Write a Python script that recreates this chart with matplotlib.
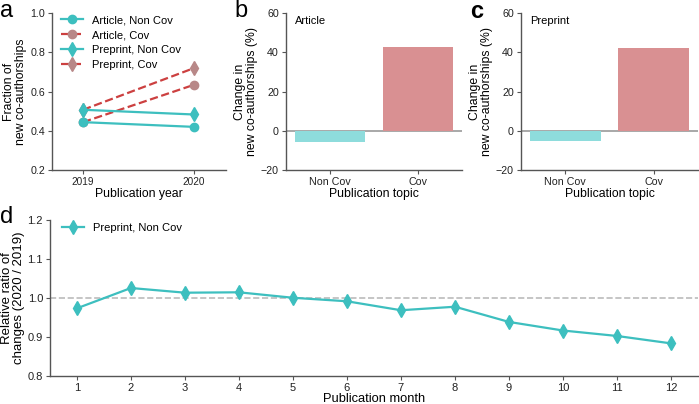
import matplotlib
matplotlib.use("Agg")
import matplotlib.pyplot as plt
import numpy as np

plt.rcParams['font.family'] = ['Liberation Sans', 'DejaVu Sans']

#%% data
years = ['2019', '2020']
article_noncov = [0.444, 0.420]
article_cov = [0.444, 0.634]
preprint_noncov = [0.507, 0.483]
preprint_cov = [0.507, 0.719]

topics = ['Non Cov', 'Cov']
article_change = [-5.5, 42.9]
preprint_change = [-5.0, 41.9]

months = [1, 2, 3, 4, 5, 6, 7, 8, 9, 10, 11, 12]
preprint_ratio = [0.974, 1.026, 1.014, 1.015, 1.001, 0.992, 0.969, 0.978, 0.939, 0.917, 0.903, 0.884]

#%% style
teal = '#3dbfbf'
red = '#cc4040'
covmk = '#b88888'
bar_teal = '#8edcdc'
bar_red = '#d99092'
spine_col = '#555555'

def style_ax(ax, ticksize):
    for s in ['top', 'right']:
        ax.spines[s].set_visible(False)
    for s in ['left', 'bottom']:
        ax.spines[s].set_color(spine_col)
        ax.spines[s].set_linewidth(1.0)
    ax.tick_params(colors=spine_col, labelcolor='#222222', labelsize=ticksize, length=3, width=0.8, pad=2)

fig = plt.figure(figsize=(6.99, 4.04), dpi=100)

#%% panel a
ax_a = fig.add_axes([0.0744, 0.579, 0.249, 0.389])
x = np.arange(len(years))
ax_a.plot(x, article_noncov, '-', color=teal, lw=1.6, marker='o', ms=6, label='Article, Non Cov', zorder=4)
ax_a.plot(x, article_cov, '--', color=red, lw=1.6, marker='o', ms=6, mfc=covmk, mec=covmk, label='Article, Cov', zorder=3)
ax_a.plot(x, preprint_noncov, '-', color=teal, lw=1.6, marker='d', ms=7, label='Preprint, Non Cov', zorder=4)
ax_a.plot(x, preprint_cov, '--', color=red, lw=1.6, marker='d', ms=7, mfc=covmk, mec=covmk, label='Preprint, Cov', zorder=3)
ax_a.set_xticks(x)
ax_a.set_xticklabels(years)
ax_a.set_xlim(-0.28, 1.29)
ax_a.set_ylim(0.2, 1.0)
ax_a.set_yticks([0.2, 0.4, 0.6, 0.8, 1.0])
ax_a.set_xlabel('Publication year', fontsize=8.8, labelpad=1)
ax_a.set_ylabel('Fraction of\nnew co-authorships', fontsize=8.8, labelpad=2, linespacing=1.0)
ax_a.legend(loc='upper left', frameon=False, fontsize=8, handlelength=2.0,
            borderaxespad=0.1, labelspacing=0.45, bbox_to_anchor=(0.02, 1.02))
style_ax(ax_a, 7.7)
ax_a.tick_params(axis='x', labelsize=7.2)

#%% panels b and c
def bar_panel(rect, vals, title):
    ax = fig.add_axes(rect)
    ax.bar([0, 1], vals, width=0.8, color=[bar_teal, bar_red])
    ax.axhline(0, color='#999999', lw=1.2, zorder=0)
    ax.set_xlim(-0.5, 1.5)
    ax.set_ylim(-20, 60)
    ax.set_yticks([-20, 0, 20, 40, 60])
    ax.set_xticks([0, 1])
    ax.set_xticklabels(topics)
    ax.set_xlabel('Publication topic', fontsize=8.8, labelpad=1)
    ax.set_ylabel('Change in\nnew co-authorships (%)', fontsize=8.8, labelpad=2, linespacing=1.0)
    ax.text(0.05, 0.98, title, transform=ax.transAxes, fontsize=8, va='top', ha='left')
    style_ax(ax, 7.7)
    return ax

ax_b = bar_panel([0.409, 0.579, 0.252, 0.389], article_change, 'Article')
ax_c = bar_panel([0.745, 0.579, 0.254, 0.389], preprint_change, 'Preprint')

#%% panel d
ax_d = fig.add_axes([0.0715, 0.069, 0.927, 0.386])
ax_d.axhline(1.0, color='#bbbbbb', ls='--', lw=1.2, zorder=0)
ax_d.plot(months, preprint_ratio, '-', color=teal, lw=1.6, marker='d', ms=7, label='Preprint, Non Cov')
ax_d.set_xlim(0.5, 12.5)
ax_d.set_ylim(0.8, 1.2)
ax_d.set_yticks([0.8, 0.9, 1.0, 1.1, 1.2])
ax_d.set_xticks(months)
ax_d.set_xlabel('Publication month', fontsize=9.3, labelpad=0)
ax_d.set_ylabel('Relative ratio of\nchanges (2020 / 2019)', fontsize=9.5, labelpad=2, linespacing=1.0)
ax_d.legend(loc='upper left', frameon=False, fontsize=8, handlelength=2.0, borderaxespad=0.1,
            bbox_to_anchor=(0.01, 1.02))
style_ax(ax_d, 8)

#%% panel letters
fig.text(0.0, 1.0, 'a', fontsize=17, va='top', ha='left')
fig.text(0.335, 1.0, 'b', fontsize=17, va='top', ha='left')
fig.text(0.673, 1.0, 'c', fontsize=17, va='top', ha='left', fontweight='bold')
fig.text(0.0, 0.49, 'd', fontsize=17, va='top', ha='left')

fig.savefig('out.png', dpi=100)
